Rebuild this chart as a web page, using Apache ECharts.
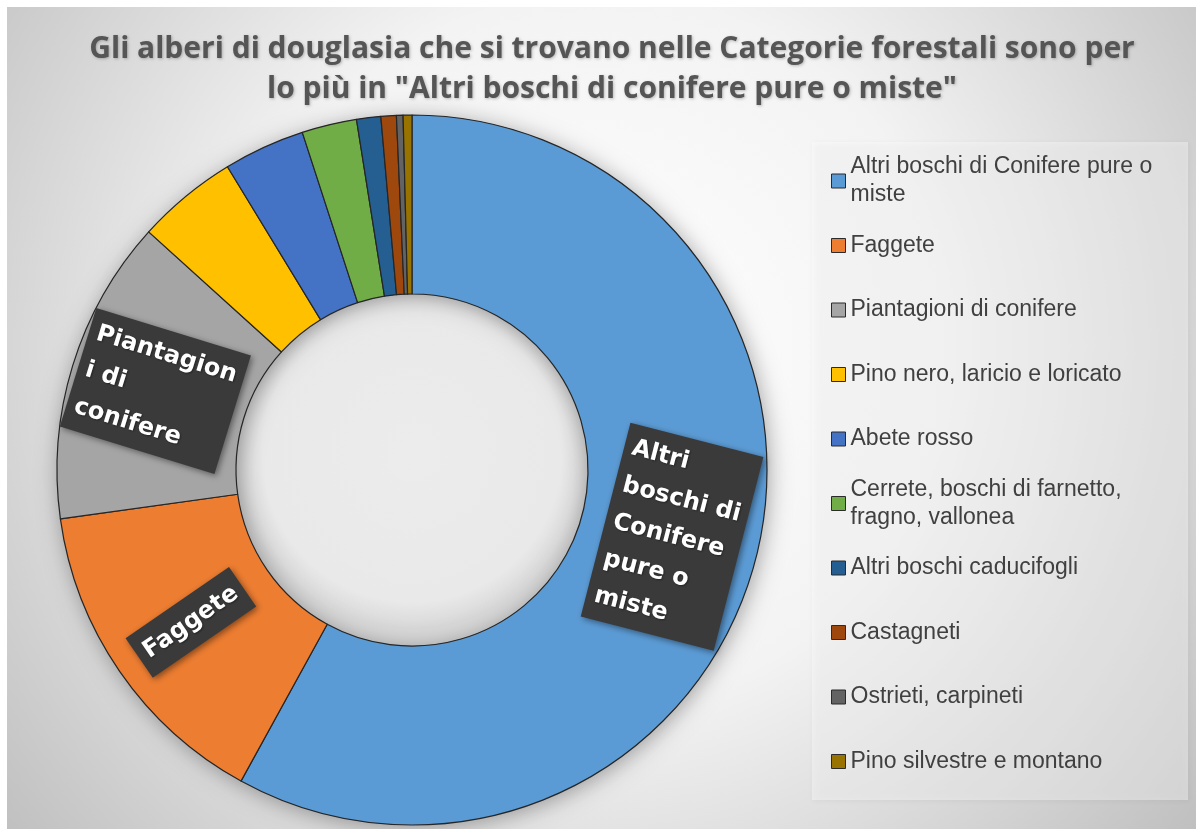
<!DOCTYPE html>
<html>
<head>
<meta charset="utf-8">
<script src="https://cdn.jsdelivr.net/npm/echarts@6/dist/echarts.min.js"></script>
<style>
  html, body { margin: 0; padding: 0; background: #ffffff; }
  #chart { width: 1196px; height: 829px; }
</style>
</head>
<body>
<div id="chart"></div>
<script>
// Categorie forestali in cui si trovano gli alberi di douglasia (quota %)
const categories = [
  'Altri boschi di Conifere pure o miste',
  'Faggete',
  'Piantagioni di conifere',
  'Pino nero, laricio e loricato',
  'Abete rosso',
  'Cerrete, boschi di farnetto, fragno, vallonea',
  'Altri boschi caducifogli',
  'Castagneti',
  'Ostrieti, carpineti',
  'Pino silvestre e montano'
];
const shares = [58.0, 14.8, 13.9, 4.6, 3.7, 2.5, 1.1, 0.7, 0.3, 0.4];
const sliceColors = [
  '#5B9BD5', '#ED7D31', '#A5A5A5', '#FFC000', '#4472C4',
  '#70AD47', '#255E91', '#9E480E', '#636363', '#997300'
];
// Testo della legenda, già spezzato su più righe
const legendLabels = [
  'Altri boschi di Conifere pure o\nmiste',
  'Faggete',
  'Piantagioni di conifere',
  'Pino nero, laricio e loricato',
  'Abete rosso',
  'Cerrete, boschi di farnetto,\nfragno, vallonea',
  'Altri boschi caducifogli',
  'Castagneti',
  'Ostrieti, carpineti',
  'Pino silvestre e montano'
];
// Etichette dentro le fette (solo le tre categorie principali)
const sliceLabels = [
  ['Altri', 'boschi di', 'Conifere', 'pure o', 'miste'],
  ['Faggete'],
  ['Piantagion', 'i di', 'conifere'],
  [], [], [], [], [], [], []
];
const titleText = 'Gli alberi di douglasia che si trovano nelle Categorie forestali sono per\nlo più in "Altri boschi di conifere pure o miste"';

// Geometria della ciambella
const CX = 412, CY = 470, R_IN = 176, R_OUT = 355;
// Legenda
const LEGEND_LEFT = 831, LEGEND_FIRST_Y = 181, LEGEND_STEP = 64.5, LEGEND_LH = 28;

const chart = echarts.init(document.getElementById('chart'), null, { renderer: 'canvas' });

const pieData = categories.map((name, i) => ({
  name: name,
  value: shares[i],
  itemStyle: { color: sliceColors[i] },
  label: { show: sliceLabels[i].length > 0 }
}));

const legends = categories.map((name, i) => {
  const lines = legendLabels[i].split('\n').length;
  const h = Math.max(lines * LEGEND_LH, 14);
  return {
    data: [name],
    orient: 'vertical',
    left: LEGEND_LEFT,
    top: LEGEND_FIRST_Y + i * LEGEND_STEP - h / 2,
    padding: 0,
    itemWidth: 14,
    itemHeight: 14,
    icon: 'rect',
    selectedMode: false,
    formatter: legendLabels[i],
    itemStyle: { borderColor: '#2b2b2b', borderWidth: 1 },
    textStyle: {
      fontFamily: 'Liberation Sans, Arial, sans-serif',
      fontSize: 23,
      lineHeight: LEGEND_LH,
      color: '#404040'
    }
  };
});

const option = {
  animation: false,
  backgroundColor: new echarts.graphic.RadialGradient(0.5, 0.42, 0.95, [
    { offset: 0, color: '#ffffff' },
    { offset: 0.45, color: '#f3f3f3' },
    { offset: 1, color: '#bdbdbd' }
  ]),
  title: {
    text: titleText,
    left: 607,
    top: 24,
    textAlign: 'center',
    textStyle: {
      fontFamily: 'Open Sans, sans-serif',
      fontWeight: 'bold',
      fontSize: 30,
      lineHeight: 40,
      color: '#555555',
      textShadowColor: 'rgba(0,0,0,0.25)',
      textShadowBlur: 3,
      textShadowOffsetX: 1,
      textShadowOffsetY: 1
    }
  },
  legend: legends,
  graphic: [
    // cornice bianca in alto e a sinistra
    { type: 'rect', z: 0, shape: { x: 0, y: 0, width: 1196, height: 7 }, style: { fill: '#ffffff' } },
    { type: 'rect', z: 0, shape: { x: 0, y: 0, width: 7, height: 829 }, style: { fill: '#ffffff' } },
    // riquadro della legenda
    {
      type: 'rect', z: 0,
      shape: { x: 812, y: 142, width: 376, height: 658 },
      style: {
        fill: 'rgba(255,255,255,0.38)',
        shadowBlur: 6, shadowColor: 'rgba(0,0,0,0.12)', shadowOffsetX: 1, shadowOffsetY: 1
      }
    },
    // fondo del foro centrale
    {
      type: 'circle', z: 0,
      shape: { cx: CX, cy: CY, r: R_IN },
      style: {
        fill: new echarts.graphic.RadialGradient(0.5, 0.45, 0.5, [
          { offset: 0, color: '#ececec' },
          { offset: 0.85, color: '#e9e9e9' },
          { offset: 1, color: '#d8d8d8' }
        ])
      }
    },
    // ombra della ciambella
    {
      type: 'ring', z: 1,
      shape: { cx: CX, cy: CY, r: R_OUT, r0: R_IN },
      style: {
        fill: '#888888',
        shadowBlur: 22, shadowColor: 'rgba(0,0,0,0.35)', shadowOffsetX: 2, shadowOffsetY: 3
      }
    }
  ],
  series: [{
    type: 'pie',
    z: 2,
    center: [CX, CY],
    radius: [R_IN, R_OUT],
    startAngle: 90,
    clockwise: true,
    avoidLabelOverlap: false,
    itemStyle: { borderColor: '#262626', borderWidth: 1.2 },
    emphasis: { disabled: true },
    labelLine: { show: false },
    label: {
      show: false,
      position: 'inside',
      rotate: 'radial',
      backgroundColor: '#3a3a3a',
      padding: [5, 8],
      shadowBlur: 6,
      shadowColor: 'rgba(0,0,0,0.45)',
      shadowOffsetX: 2,
      shadowOffsetY: 2,
      formatter: p => sliceLabels[p.dataIndex].map(l => '{t|' + l + '}').join('\n'),
      rich: {
        t: {
          align: 'left',
          color: '#ffffff',
          fontFamily: 'DejaVu Sans, sans-serif',
          fontWeight: 'bold',
          fontSize: 24,
          lineHeight: 38,
          textShadowColor: 'rgba(0,0,0,0.4)',
          textShadowBlur: 2,
          textShadowOffsetX: 1,
          textShadowOffsetY: 1
        }
      }
    },
    data: pieData
  }]
};

chart.setOption(option);
</script>
</body>
</html>
